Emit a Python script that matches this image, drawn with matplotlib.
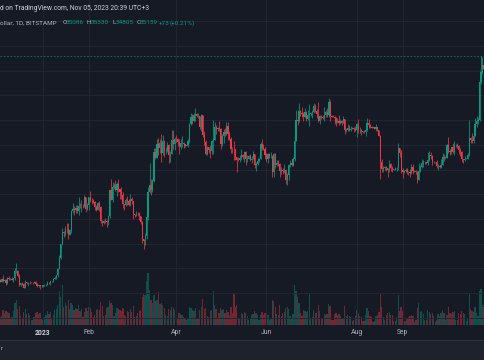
import matplotlib
matplotlib.use("Agg")
import matplotlib.pyplot as plt
import matplotlib.dates as mdates
from matplotlib.patches import Rectangle
from matplotlib.lines import Line2D
import numpy as np
import pandas as pd

# BTC/USD daily, Bitstamp, 3 Dec 2022 -> 26 Oct 2023
dates = pd.date_range("2022-12-03", "2023-10-26", freq="D")
first_open = 17090

closes = [
    # dec
    16890, 17110, 16970, 17090, 16840, 17220, 17130, 17130, 17090, 17210, 17780, 17810, 17360, 16630, 16780,
    16740, 16440, 16900, 16820, 16830, 16780, 16840, 16830, 16910, 16700, 16550, 16640, 16600, 16540,
    # jan
    16610, 16670, 16670, 16850, 16830, 16950, 16940, 17120, 17180, 17440, 17940, 18850, 19930, 20960, 20880,
    21170, 21160, 20690, 21080, 22680, 22780, 22710, 22920, 22620, 23060, 23010, 23080, 23030, 23770, 22830, 23130,
    # feb
    23740, 23490, 23430, 23330, 22940, 22760, 23260, 22960, 21800, 21630, 21860, 21790, 21780, 22200, 24330,
    23540, 24570, 24640, 24330, 24840, 24440, 24190, 23950, 23200, 23160, 23560, 23490, 23140,
    # mar
    23650, 23470, 22360, 22350, 22430, 22410, 22200, 21720, 20360, 20190, 20630, 22160, 24200, 24750, 24380,
    25050, 27420, 26970, 28040, 27770, 28180, 27300, 28330, 27490, 27490, 27990, 27140, 27270, 28350, 28030, 28470,
    # apr
    28460, 28200, 27800, 28170, 28170, 28040, 27920, 27950, 28330, 29650, 30240, 29890, 30390, 30490, 30320,
    30320, 29440, 30400, 28820, 28250, 27270, 27820, 27590, 27520, 28310, 28420, 29470, 29320, 29340, 29250,
    # may
    28070, 28680, 29030, 28850, 29540, 28900, 28450, 27690, 27650, 27620, 26990, 26800, 26780, 26930, 27170,
    27040, 27400, 26830, 26890, 27120, 26750, 26850, 27230, 26330, 26480, 26720, 26870, 28080, 27750, 27700, 27210,
    # jun
    26820, 27250, 27070, 27120, 25760, 27240, 26350, 26500, 26480, 25850, 25940, 25900, 25920, 25130, 25580,
    26340, 26510, 26340, 26850, 28310, 30000, 29900, 30700, 30550, 30470, 30270, 30690, 30080, 30450, 30480,
    # jul
    30590, 30620, 31160, 30770, 30510, 29900, 30350, 30290, 30170, 30410, 30620, 30390, 31470, 30320, 30290,
    30250, 30150, 29860, 29910, 29800, 29910, 29800, 30090, 29180, 29230, 29350, 29220, 29310, 29350, 29280, 29230,
    # aug
    29700, 29180, 29190, 29110, 29060, 29050, 29180, 29770, 29570, 29430, 29400, 29420, 29290, 29410, 29180,
    28700, 26620, 26050, 26100, 26190, 26120, 25990, 26430, 26160, 26050, 26000, 26090, 26100, 27710, 27300, 25940,
    # sep
    25800, 25870, 25970, 25820, 25790, 25750, 26240, 25900, 25900, 25830, 25160, 25840, 26220, 26530, 26600,
    26570, 26530, 26760, 27210, 27130, 26570, 26580, 26580, 26250, 26300, 26220, 26350, 27030, 26910, 26970,
    # oct
    27990, 27500, 27430, 27790, 27410, 27950, 27970, 27940, 27590, 27390, 26870, 26760, 26860, 26860, 27160,
    28520, 28420, 28330, 28720, 29680, 29920, 30000, 33090, 33900, 34500, 34160,
]

highs = [
    17160, 17200, 17420, 17110, 17140, 17300, 17360, 17230, 17270, 17240, 18000, 18390, 17840, 17530, 16800,
    16860, 16820, 17050, 16910, 16860, 16950, 16870, 16860, 16940, 16960, 16780, 16660, 16650, 16640,
    16630, 16760, 16760, 17000, 16880, 16990, 16970, 17180, 17400, 17490, 18000, 19100, 19990, 21260, 21000,
    21460, 21640, 21640, 21180, 22740, 23320, 23070, 23160, 23160, 23800, 23280, 23500, 23170, 23960, 23800, 23300,
    23810, 24250, 23690, 23580, 23430, 23150, 23360, 23450, 23010, 21920, 21900, 22080, 21890, 22320, 24370,
    25250, 24980, 24890, 25130, 25020, 25270, 24460, 24620, 24140, 23230, 23660, 23880, 23590,
    24000, 23790, 23480, 22420, 22630, 22580, 22540, 22270, 21820, 20380, 20840, 22200, 24600, 26500, 25250,
    25200, 27750, 27740, 28450, 28550, 28450, 28870, 28780, 28400, 27800, 28200, 28040, 27500, 29180, 29170, 28650,
    28810, 28530, 28500, 28440, 28740, 28190, 28100, 28170, 28500, 29770, 30550, 30480, 30600, 30990, 30610,
    30560, 30330, 30480, 30420, 29110, 28370, 27880, 27830, 28000, 28400, 30000, 29880, 29600, 29460, 29960,
    29330, 28880, 29260, 29370, 29860, 29830, 29150, 28650, 27850, 28330, 27640, 26990, 27030, 27200, 27660,
    27280, 27480, 27470, 27190, 27160, 27270, 27060, 27500, 27220, 26620, 26940, 26930, 28200, 28460, 28050, 27840,
    27350, 27300, 27330, 27440, 27140, 27340, 27370, 26800, 26780, 26530, 26200, 26090, 26420, 26080, 25750,
    26480, 26780, 26680, 26990, 28400, 30800, 30500, 31400, 30810, 31050, 30660, 31010, 30710, 30830, 31280,
    30650, 30790, 31380, 31330, 30890, 31500, 30440, 30380, 30450, 31040, 30800, 30980, 31800, 31640, 30390,
    30440, 30330, 30240, 30180, 30420, 30050, 29990, 30350, 30110, 29340, 29690, 29570, 29530, 29410, 29460, 29510,
    29740, 30050, 29420, 29320, 29110, 29170, 29240, 30180, 30100, 29690, 29540, 29460, 29450, 29670, 29440,
    29230, 28780, 26820, 26270, 26280, 26250, 26130, 26800, 26550, 26290, 26080, 26180, 26230, 28140, 27750, 27550,
    26130, 25980, 26110, 26100, 25880, 26030, 26430, 26420, 25930, 25980, 25890, 26540, 26390, 26820, 26780,
    26680, 26620, 27410, 27480, 27380, 27160, 26720, 26620, 26730, 26420, 26390, 26820, 27310, 27230, 27080,
    28070, 28600, 27660, 27830, 28130, 28270, 28040, 28120, 27990, 27740, 27480, 26830, 27100, 26970, 27300,
    30000, 28620, 28990, 28900, 30210, 30340, 30220, 33980, 35200, 35100, 34800,
]

lows = [
    16860, 16880, 16880, 16910, 16680, 16740, 17070, 17090, 17070, 16870, 17080, 17660, 17280, 16580, 16590,
    16670, 16400, 16400, 16720, 16590, 16760, 16780, 16740, 16790, 16610, 16470, 16500, 16340, 16490,
    16500, 16550, 16600, 16660, 16750, 16680, 16910, 16910, 17100, 17160, 17310, 17910, 18720, 19890, 20560,
    20620, 20880, 20410, 20670, 20880, 22440, 22300, 22500, 22460, 22350, 22870, 22560, 22880, 23000, 22550, 22720,
    22750, 23380, 23240, 23260, 22760, 22630, 22750, 22680, 21690, 21460, 21610, 21650, 21370, 21530, 22050,
    23510, 23350, 24460, 24280, 23860, 24150, 23590, 23640, 22880, 22750, 23070, 23110, 23050,
    23020, 23200, 21980, 22170, 22230, 22270, 21940, 21600, 20070, 19570, 19920, 20400, 21900, 24100, 23950,
    24200, 25000, 26830, 26930, 27160, 27350, 26600, 27190, 27000, 27250, 27420, 26550, 26640, 27250, 27700, 27550,
    28250, 27880, 27250, 27690, 27850, 27740, 27800, 27880, 27820, 28180, 29620, 29710, 29870, 29920, 30240,
    30150, 29280, 29100, 28640, 28010, 27140, 27140, 27350, 26970, 27220, 27250, 28380, 28900, 29080, 29120,
    27680, 27880, 28130, 28680, 28820, 28390, 28370, 27340, 27340, 26780, 26740, 25810, 26700, 26600, 26740,
    26880, 26580, 26380, 26640, 26850, 26690, 26540, 26830, 26090, 25870, 26340, 26590, 26860, 27550, 27570, 26850,
    26610, 26540, 26940, 26970, 25400, 25380, 26130, 26320, 26290, 25400, 25640, 25660, 25750, 24830, 24760,
    25170, 26190, 26300, 26270, 26650, 28270, 29570, 29830, 30300, 30280, 29940, 30210, 29890, 30030, 29510,
    30330, 30200, 30600, 30640, 30210, 29850, 29700, 30060, 30060, 29950, 30290, 30220, 30240, 29940, 30250,
    30220, 29680, 29510, 29770, 29570, 29720, 29620, 29750, 28900, 29050, 29100, 29080, 29130, 29260, 29050, 29130,
    28610, 28950, 28950, 28780, 28960, 28970, 28710, 29110, 29400, 29330, 29330, 29360, 29250, 29100, 29100,
    28700, 25200, 25800, 25800, 26000, 25860, 25360, 25800, 25860, 25780, 25980, 25970, 25870, 25930, 27020, 25690,
    25350, 25720, 25810, 25630, 25570, 25380, 25610, 25650, 25810, 25600, 24900, 25130, 25770, 26130, 26220,
    26470, 26420, 26380, 26670, 26840, 26370, 26520, 26520, 26140, 26000, 26100, 26120, 26350, 26680, 26890,
    26950, 27330, 27160, 27230, 27350, 27190, 27860, 27730, 27280, 27110, 26570, 26540, 26690, 26810, 26820,
    27130, 28110, 28130, 28170, 28680, 29470, 29680, 29900, 32890, 33700, 33770,
]

# volume, hundreds of BTC
volumes = [
    16, 18, 30, 24, 28, 26, 24, 14, 16, 28, 44, 50, 32, 38, 18, 14, 26, 32, 22, 24, 20, 10, 10, 16, 24, 26, 22, 24, 12,
    10, 16, 20, 28, 22, 26, 12, 20, 30, 32, 40, 68, 56, 80, 36, 44, 38, 50, 32, 44, 40, 30, 34, 32, 40, 28, 32, 16, 26, 34, 28,
    36, 34, 26, 16, 20, 30, 32, 30, 46, 38, 18, 20, 34, 36, 48, 44, 40, 18, 24, 34, 32, 30, 28, 34, 20, 18, 28, 26,
    32, 26, 38, 16, 18, 24, 28, 30, 56, 64, 60, 88, 104, 70, 50, 44, 60, 48, 50, 66, 42, 44, 40, 34, 20, 18, 32, 30, 36, 34, 30,
    14, 14, 24, 22, 20, 16, 14, 10, 12, 36, 34, 30, 28, 34, 14, 14, 30, 36, 52, 32, 34, 18, 16, 28, 30, 68, 40, 32, 14, 24,
    34, 30, 32, 24, 30, 26, 18, 36, 24, 64, 36, 40, 14, 12, 24, 22, 26, 24, 18, 10, 12, 20, 22, 28, 24, 20, 10, 20, 26, 20, 24,
    22, 20, 10, 12, 50, 48, 36, 22, 20, 40, 18, 24, 26, 34, 36, 32, 18, 14, 22, 80, 68, 56, 44, 24, 18, 30, 28, 26, 28, 64,
    14, 16, 30, 24, 24, 40, 28, 12, 12, 22, 20, 22, 42, 38, 10, 10, 22, 24, 20, 22, 18, 12, 14, 38, 18, 20, 18, 16, 8, 10, 18,
    30, 24, 18, 16, 8, 8, 20, 34, 28, 18, 16, 6, 8, 18, 20, 26, 64, 36, 16, 10, 20, 24, 26, 20, 20, 8, 8, 16, 60, 28, 36,
    28, 8, 8, 14, 16, 18, 20, 18, 6, 10, 34, 44, 26, 28, 22, 10, 10, 30, 26, 22, 24, 18, 6, 10, 22, 18, 24, 30, 24, 10,
    20, 36, 24, 22, 26, 28, 10, 10, 24, 22, 28, 24, 22, 8, 12, 64, 32, 28, 26, 36, 24, 18, 68, 72, 40, 36,
]

last_close = 35159
tick_dates = ["2023-01-01", "2023-02-01", "2023-04-01", "2023-06-01", "2023-08-01", "2023-09-01"]
tick_labels = ["2023", "Feb", "Apr", "Jun", "Aug", "Sep"]
price_grid = list(range(14000, 40000, 2000))

bg = "#161a25"
up = "#089981"
down = "#f23645"
grid_c = "#222633"
txt = "#b2b5be"
font = "Roboto"

x = mdates.date2num(dates)
o = np.array([first_open] + closes[:-1], dtype=float)
c = np.array(closes, dtype=float)
h = np.maximum(np.array(highs, dtype=float), np.maximum(o, c))
l = np.minimum(np.array(lows, dtype=float), np.minimum(o, c))
is_up = c >= o
cols = np.where(is_up, up, down)

fig = plt.figure(figsize=(4.85, 3.6), dpi=100, facecolor=bg)
ax = fig.add_axes([0, 35 / 360, 1, 325 / 360])
axv = ax.twinx()
axv.set_zorder(ax.get_zorder() - 1)
ax.patch.set_visible(False)
axv.patch.set_facecolor(bg)

# volume overlay
axv.bar(x, volumes, width=0.85, color=cols, alpha=0.42, linewidth=0)
axv.set_ylim(0, max(volumes) * 325 / 52)
axv.set_yticks([])

# candles
ax.vlines(x, l, h, colors=cols, linewidth=0.55)
body_lo = np.minimum(o, c)
body_h = np.maximum(np.abs(c - o), 15)
ax.bar(x, body_h, bottom=body_lo, width=0.8, color=cols, linewidth=0)

ax.axhline(last_close, color=up, linestyle=(0, (2, 2)), linewidth=0.6, alpha=0.7)

jan1 = mdates.date2num(pd.Timestamp("2023-01-01"))
ax.set_xlim(jan1 - 29.05, jan1 + 298.7)
ax.set_ylim(13409, 39725)

ax.set_xticks(mdates.date2num(pd.to_datetime(tick_dates)))
ax.set_xticklabels(tick_labels)
ax.set_yticks(price_grid)
ax.tick_params(axis="y", length=0, labelleft=False, labelright=False)
ax.tick_params(axis="x", length=0, pad=2.6, labelsize=4.9, labelcolor=txt)
for lab in ax.get_xticklabels():
    lab.set_fontfamily(font)
ax.get_xticklabels()[0].set_fontweight("bold")
ax.get_xticklabels()[0].set_color("#d1d4dc")
ax.grid(True, color=grid_c, linewidth=0.7)
ax.set_axisbelow(True)
for a in (ax, axv):
    for s in a.spines.values():
        s.set_visible(False)

# bottom toolbar strip
fig.patches.append(Rectangle((0, 0), 1, 20 / 360, transform=fig.transFigure, color="#1e222d", zorder=0))
fig.lines.append(Line2D([0, 1], [20 / 360, 20 / 360], transform=fig.transFigure, color="#2a2e39", linewidth=0.8))
fig.text(0.5 / 485, 1 - 349 / 360, "r", color=txt, fontsize=4.5, family=font, va="center")

# header
fig.text(0, 1 - 8 / 360, "d on TradingView.com, Nov 05, 2023 20:39 UTC+3", color="#d1d4dc",
         fontsize=4.9, family=font, va="center")
header = [
    (0, "ollar, 1D, BITSTAMP", txt),
    (62.7, "O", txt), (66, "35086", up),
    (87, "H", txt), (90.7, "35330", up),
    (112.3, "L", txt), (115.7, "34805", up),
    (136.7, "C", txt), (140, "35159", up),
    (158.3, "+73", up), (170, "(+0.21%)", up),
]
for px, s, col in header:
    fig.text(px / 485, 1 - 23 / 360, s, color=col, fontsize=4.6, family=font, va="center")

fig.savefig("out.png", dpi=100, facecolor=bg)
